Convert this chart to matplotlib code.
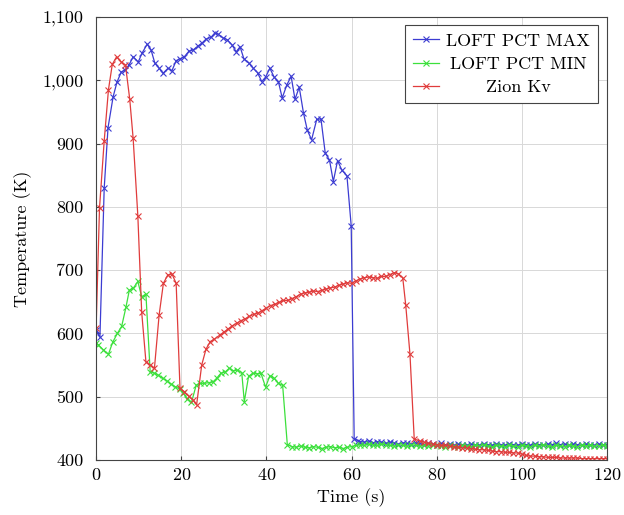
import matplotlib
matplotlib.use("Agg")
import matplotlib.pyplot as plt
from matplotlib.ticker import FuncFormatter, MultipleLocator

plt.rcParams["font.family"] = ["cmr10", "DejaVu Serif"]
plt.rcParams["axes.formatter.use_mathtext"] = True

# LOFT PCT MAX
max_t = [0, 0.9, 1.9, 2.8, 4.0, 4.9, 5.9, 6.8, 7.7, 8.7, 9.9, 10.8, 12.0, 12.9,
         13.8, 14.8, 15.7, 16.9, 17.8, 18.8, 19.7, 20.7, 21.8, 22.8, 23.9, 24.9,
         25.8, 27.0, 27.9, 28.6, 29.8, 30.8, 31.9, 32.9, 33.8, 34.7, 35.9, 36.9,
         37.9, 38.9, 39.8, 40.8, 41.8, 42.8, 43.7, 44.8, 45.8, 46.7, 47.7, 48.7,
         49.6, 50.6, 51.8, 52.8, 53.8, 54.8, 55.7, 56.7, 57.7, 58.9, 59.9, 60.6,
         61.6] + list(range(62, 121))
max_T = [605, 594, 829, 925, 974, 997, 1013, 1016, 1024, 1037, 1029, 1043, 1057,
         1048, 1027, 1019, 1011, 1019, 1015, 1031, 1034, 1037, 1046, 1048, 1054,
         1059, 1065, 1068, 1075, 1073, 1067, 1064, 1056, 1045, 1053, 1034, 1027,
         1019, 1012, 998, 1005, 1019, 1005, 998, 972, 993, 1006, 970, 989, 948,
         921, 906, 938, 939, 885, 874, 840, 873, 858, 849, 770, 433, 430,
         429, 428, 430, 427, 429, 428, 426, 428, 427, 425, 427, 426, 425, 427,
         426, 424, 426, 425, 424, 426, 424, 425, 423, 425, 424, 423, 425, 424,
         423, 425, 424, 423, 425, 424, 423, 425, 424, 423, 425, 424, 423, 425,
         424, 423, 425, 424, 426, 424, 425, 423, 425, 424, 423, 425, 424, 423,
         425, 424, 424]

# LOFT PCT MIN
min_t = [0, 0.5, 1.7, 2.9, 3.9, 5.0, 6.0, 7.0, 7.8, 8.7, 9.8, 10.7, 11.7, 12.7,
         13.7, 14.6, 15.6, 16.6, 17.6, 18.5, 19.6, 20.5, 21.4, 22.4, 23.5, 24.4,
         25.4, 26.4, 27.4, 28.3, 29.3, 30.3, 31.3, 32.2, 33.2, 34.2, 34.8, 35.8,
         36.8, 37.7, 38.7, 39.8, 40.8, 41.8, 42.8, 43.8, 44.9] + list(range(46, 121))
min_T = [585, 582, 574, 567, 586, 600, 611, 641, 668, 671, 682, 658, 662, 539,
         537, 534, 529, 525, 520, 516, 512, 505, 497, 491, 518, 521, 521, 522,
         523, 529, 537, 539, 545, 541, 542, 538, 492, 532, 537, 536, 537, 515,
         533, 529, 521, 518, 424,
         421, 420, 422, 420, 419, 421, 420, 418, 420, 421, 419, 420, 418, 420,
         421, 423, 424, 423, 425, 424, 423, 425, 424, 423, 422, 424, 423, 422,
         424, 423, 422, 423, 422, 424, 423, 422, 421, 423, 422, 421, 423, 422,
         421, 423, 422, 424, 422, 421, 423, 422, 421, 423, 422, 421, 423, 422,
         421, 423, 422, 424, 422, 421, 423, 422, 421, 423, 422, 421, 423, 422,
         423, 422, 422, 423, 422]

# Zion Kv
zion_t = [0, 0.8, 1.9, 2.9, 3.8, 4.8, 5.9, 6.9, 7.9, 8.7, 9.8, 10.7, 11.7, 12.7,
          13.7, 14.8, 15.8, 16.8, 17.8, 18.8, 19.7, 20.7, 21.7, 22.7, 23.6, 24.8,
          25.8, 26.8, 27.8] + list(range(29, 73)) + [72.7, 73.7, 74.7] + list(range(76, 121))
zion_T = [608, 798, 904, 985, 1025, 1037, 1029, 1024, 970, 908, 786, 634, 555,
          550, 545, 629, 679, 692, 694, 679, 513, 508, 501, 495, 487, 550, 575,
          587, 591,
          597, 602, 607, 612, 616, 620, 623, 627, 630, 632, 636, 640, 644, 646,
          649, 652, 652, 655, 658, 662, 664, 665, 667, 666, 668, 670, 672, 673,
          676, 678, 680, 679, 683, 686, 688, 689, 688, 687, 690, 690, 693, 696,
          694, 688,
          645, 567, 433,
          430, 428, 426, 425, 424, 423, 423, 422, 421, 420, 419, 419, 418, 417,
          416, 416, 415, 414, 413, 413, 412, 412, 411, 411, 409, 407, 406, 406,
          405, 405, 404, 404, 404, 403, 403, 403, 403, 403, 402, 402, 402, 402,
          402, 402, 402]

fig = plt.figure(figsize=(6.24, 5.15), dpi=100)
ax = fig.add_axes([0.154, 0.107, 0.819, 0.86])

style = dict(lw=0.9, marker="x", ms=4, mew=0.8)
ax.plot(max_t, max_T, color="#3c3cd2", label="LOFT PCT MAX", **style)
ax.plot(min_t, min_T, color="#3ce03c", label="LOFT PCT MIN", **style)
ax.plot(zion_t, zion_T, color="#e03c3c", label="Zion Kv", **style)

ax.set_xlim(0, 120)
ax.set_ylim(400, 1100)
ax.xaxis.set_major_locator(MultipleLocator(20))
ax.yaxis.set_major_locator(MultipleLocator(100))
ax.yaxis.set_major_formatter(FuncFormatter(lambda v, p: f"{v:,.0f}"))
ax.grid(True, color="#d8d8d8", lw=0.7)
ax.set_axisbelow(True)
for s in ax.spines.values():
    s.set_color("#444444")
    s.set_linewidth(0.8)
ax.tick_params(direction="in", length=3, color="#444444", labelsize=13)
ax.tick_params(axis="x", pad=5)
ax.tick_params(axis="y", pad=9)

ax.set_xlabel("Time (s)", fontsize=13)
ax.set_ylabel("Temperature (K)", fontsize=13)
ax.yaxis.set_label_coords(-0.125, 0.5)

leg = ax.legend(loc="upper right", bbox_to_anchor=(0.982, 0.982), fontsize=13,
                handlelength=1.45, handletextpad=0.4, borderpad=0.45,
                labelspacing=0.42, borderaxespad=0, fancybox=False,
                framealpha=1, edgecolor="#444444")
leg.get_frame().set_linewidth(0.8)

# centre the legend entries like pgfplots does
fig.canvas.draw()
texts = leg.get_texts()
widths = [t.get_window_extent().width for t in texts]
for t, w in zip(texts, widths):
    t.set_position(((max(widths) - w) / 2, 0))

fig.savefig("out.png", dpi=100)
